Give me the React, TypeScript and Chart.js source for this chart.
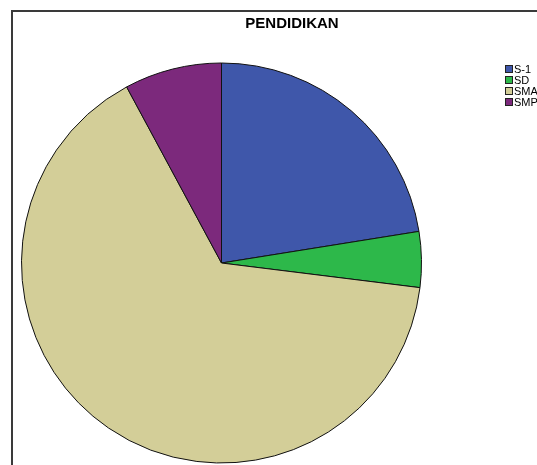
import React, { useEffect, useRef } from "react";
import { Chart, registerables } from "chart.js";

Chart.register(...registerables);

const TITLE = "PENDIDIKAN";
const categories = ["S-1", "SD", "SMA", "SMP"];
const counts = [20, 4, 58, 7];
const colors = ["#3F57AA", "#2DB84A", "#D3CE98", "#7C297C"];

const W = 537;
const H = 465;

const overlayPlugin = {
  id: "overlay",
  afterDraw(chart: any) {
    const ctx = chart.ctx;
    ctx.save();
    // frame
    ctx.strokeStyle = "#3a3a3a";
    ctx.lineWidth = 2;
    ctx.beginPath();
    ctx.moveTo(12, H + 2);
    ctx.lineTo(12, 11);
    ctx.lineTo(W + 2, 11);
    ctx.stroke();
    // title
    ctx.fillStyle = "#000";
    ctx.font = "bold 15px 'Liberation Sans', Arial, sans-serif";
    ctx.textAlign = "center";
    ctx.textBaseline = "middle";
    ctx.fillText(TITLE, 292, 24);
    // legend
    ctx.font = "11px 'Liberation Sans', Arial, sans-serif";
    ctx.textAlign = "left";
    categories.forEach((c, i) => {
      const y = 65 + i * 11;
      ctx.fillStyle = colors[i];
      ctx.fillRect(505, y, 8, 8);
      ctx.strokeStyle = "#222";
      ctx.lineWidth = 1;
      ctx.strokeRect(505.5, y + 0.5, 7, 7);
      ctx.fillStyle = "#000";
      ctx.fillText(c, 514, y + 4.5);
    });
    ctx.restore();
  },
};

export default function App() {
  const ref = useRef<HTMLCanvasElement | null>(null);
  useEffect(() => {
    if (!ref.current) return;
    const chart = new Chart(ref.current, {
      type: "pie",
      data: {
        labels: categories,
        datasets: [
          {
            data: counts,
            backgroundColor: colors,
            borderColor: "#111",
            borderWidth: 1,
            hoverOffset: 0,
          },
        ],
      },
      options: {
        animation: false,
        responsive: false,
        devicePixelRatio: 1,
        layout: { padding: { left: 21, right: W - 421 - 1, top: 63 - 1, bottom: 1 } },
        plugins: {
          legend: { display: false },
          title: { display: false },
          tooltip: { enabled: false },
        },
      },
      plugins: [overlayPlugin],
    });
    return () => chart.destroy();
  }, []);
  return (
    <div style={{ position: "absolute", left: 0, top: 0, width: W, height: H, background: "#fff" }}>
      <canvas ref={ref} width={W} height={H} style={{ width: W, height: H, display: "block" }} />
    </div>
  );
}
